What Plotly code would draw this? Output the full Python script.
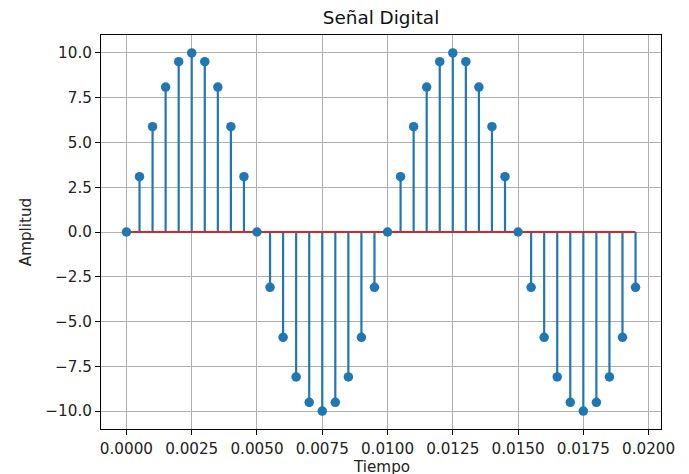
import plotly.graph_objects as go

# Sample times (s)
tiempo = [0.0000, 0.0005, 0.0010, 0.0015, 0.0020, 0.0025, 0.0030, 0.0035, 0.0040, 0.0045,
          0.0050, 0.0055, 0.0060, 0.0065, 0.0070, 0.0075, 0.0080, 0.0085, 0.0090, 0.0095,
          0.0100, 0.0105, 0.0110, 0.0115, 0.0120, 0.0125, 0.0130, 0.0135, 0.0140, 0.0145,
          0.0150, 0.0155, 0.0160, 0.0165, 0.0170, 0.0175, 0.0180, 0.0185, 0.0190, 0.0195]

# Sampled amplitude values
amplitud = [0.0, 3.09, 5.88, 8.09, 9.51, 10.0, 9.51, 8.09, 5.88, 3.09,
            0.0, -3.09, -5.88, -8.09, -9.51, -10.0, -9.51, -8.09, -5.88, -3.09,
            0.0, 3.09, 5.88, 8.09, 9.51, 10.0, 9.51, 8.09, 5.88, 3.09,
            0.0, -3.09, -5.88, -8.09, -9.51, -10.0, -9.51, -8.09, -5.88, -3.09]

x_ticks = [0.0, 0.0025, 0.005, 0.0075, 0.01, 0.0125, 0.015, 0.0175, 0.02]
y_ticks = [-10.0, -7.5, -5.0, -2.5, 0.0, 2.5, 5.0, 7.5, 10.0]

BLUE = "#1f77b4"
RED = "#d62728"
FONT = "DejaVu Sans"
TICK_SIZE = 15.2
TITLE_SIZE = 18.4

# Stem lines built from the data
sx, sy = [], []
for t, v in zip(tiempo, amplitud):
    sx += [t, t, None]
    sy += [0, v, None]

fig = go.Figure()
fig.add_trace(go.Scatter(x=sx, y=sy, mode="lines",
                         line=dict(color=BLUE, width=2.2), hoverinfo="skip"))
fig.add_trace(go.Scatter(x=[tiempo[0], tiempo[-1]], y=[0, 0], mode="lines",
                         line=dict(color=RED, width=2.2), hoverinfo="skip"))
fig.add_trace(go.Scatter(x=tiempo, y=amplitud, mode="markers",
                         marker=dict(color=BLUE, size=9.5)))

x0 = tiempo[0]
x1 = tiempo[-1]
pad = (x1 - x0) * 0.05

fig.update_layout(
    width=689, height=474,
    margin=dict(l=101, r=28, t=35, b=45),
    paper_bgcolor="white", plot_bgcolor="white",
    showlegend=False,
    font=dict(family=FONT, size=TICK_SIZE, color="#222"),
    title=dict(text="Señal Digital", x=0.5, xanchor="center",
               y=1 - 18 / 474, yanchor="middle",
               xref="paper",
               font=dict(family=FONT, size=TITLE_SIZE, color="#111")),
    xaxis=dict(
        range=[x0 - pad, x1 + pad],
        tickvals=x_ticks, tickformat=".4f",
        automargin=False,
        showgrid=True, gridcolor="#b0b0b0", gridwidth=1.1,
        zeroline=False,
        showline=True, linecolor="black", linewidth=1.1, mirror=True,
        ticks="outside", ticklen=5, tickcolor="black", tickwidth=1.1,
        ticklabelstandoff=1,
        tickfont=dict(family=FONT, size=TICK_SIZE, color="#222"),
    ),
    yaxis=dict(
        range=[-11, 11],
        tickvals=y_ticks, tickformat=".1f",
        automargin=False,
        showgrid=True, gridcolor="#b0b0b0", gridwidth=1.1,
        zeroline=False,
        showline=True, linecolor="black", linewidth=1.1, mirror=True,
        ticks="outside", ticklen=5, tickcolor="black", tickwidth=1.1,
        title=dict(text="Amplitud", standoff=10, font=dict(family=FONT, size=TICK_SIZE)),
        tickfont=dict(family=FONT, size=TICK_SIZE, color="#222"),
    ),
    annotations=[dict(text="Tiempo", xref="paper", yref="paper", x=0.5, y=0,
                      xanchor="center", yanchor="top", yshift=-27, showarrow=False,
                      font=dict(family=FONT, size=TICK_SIZE, color="#222"))],
)

fig.write_html("out.html", config={"displayModeBar": False},
               post_script="document.body.style.margin='0';")
